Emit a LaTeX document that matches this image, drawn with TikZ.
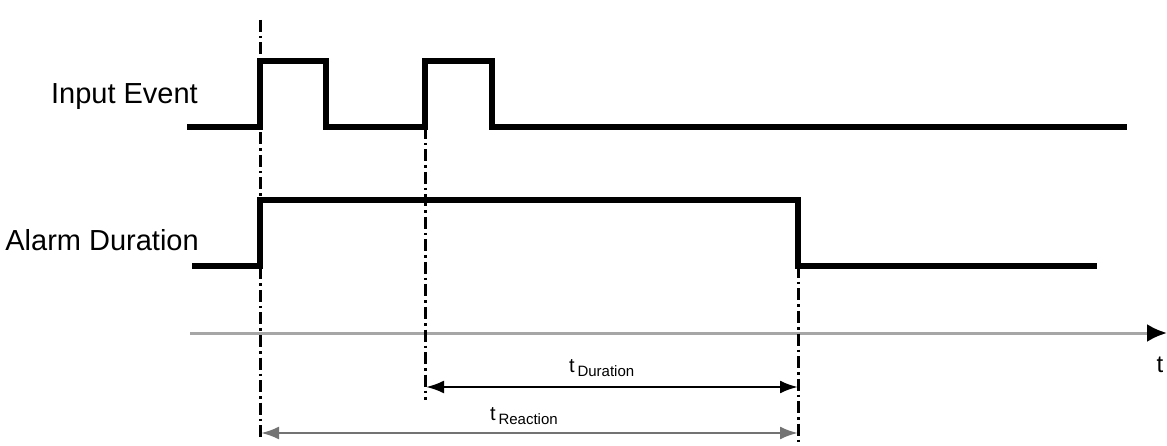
\documentclass[tikz,border=0pt]{standalone}
\usepackage{fontspec}
\setmainfont{Liberation Sans}
\usetikzlibrary{arrows.meta}
\begin{document}
\begin{tikzpicture}[x=1pt,y=-1pt,
  signal/.style={line width=6pt,line join=miter},
  guide/.style={line width=3pt,dash pattern=on 12pt off 4pt on 2.5pt off 4pt},
  measure/.style={line width=2.5pt,{Latex[length=18pt,width=13pt]}-{Latex[length=18pt,width=13pt]}},
  axisline/.style={line width=3pt,draw=black!35,-{Latex[length=20pt,width=18pt,color=black]}},
  biglabel/.style={font=\fontsize{29}{31}\selectfont,inner sep=0pt,anchor=east},
  sublabel/.style={inner sep=0pt}]
\useasboundingbox (0,0) rectangle (1167,446);
% labels
\node[biglabel] (lin) at (198,97) {Input Event};
\node[biglabel] (lal) at (199,240) {Alarm Duration};
% input event signal
\coordinate (i0) at (187,127);
\coordinate (i1) at (260,127);
\coordinate (i2) at (260,61);
\coordinate (i3) at (326,61);
\coordinate (i4) at (326,127);
\coordinate (i5) at (425,127);
\coordinate (i6) at (425,61);
\coordinate (i7) at (492,61);
\coordinate (i8) at (492,127);
\coordinate (i9) at (1127,127);
\draw[signal] (i0) -- (i1) -- (i2) -- (i3) -- (i4) -- (i5) -- (i6) -- (i7) -- (i8) -- (i9);
% alarm signal
\coordinate (a0) at (192,266);
\coordinate (a1) at (260,266);
\coordinate (a2) at (260,200);
\coordinate (a3) at (798,200);
\coordinate (a4) at (798,266);
\coordinate (a5) at (1097,266);
\draw[signal] (a0) -- (a1) -- (a2) -- (a3) -- (a4) -- (a5);
% time axis
\coordinate (t0) at (190,333);
\coordinate (t1) at (1167,333);
\draw[axisline] (t0) -- (t1);
\node[font=\fontsize{24}{26}\selectfont,inner sep=0pt] (tl) at (1160,365) {t};
% guides
\coordinate (g1a) at (260,20);
\coordinate (g1b) at (260,438);
\coordinate (g2a) at (425,127);
\coordinate (g2b) at (425,400);
\coordinate (g3a) at (798,266);
\coordinate (g3b) at (798,442);
\draw[guide] (g1a) -- (g1b);
\draw[guide] (g2a) -- (g2b);
\draw[guide] (g3a) -- (g3b);
% measurements
\coordinate (d0) at (426,387);
\coordinate (d1) at (798,387);
\coordinate (r0) at (261,433);
\coordinate (r1) at (798,433);
\draw[measure] (d0) -- (d1);
\draw[measure,draw=black!55] (r0) -- (r1);
\node[sublabel,anchor=base west] (ld) at (569,372) {{\fontsize{20}{22}\selectfont t}\;\raisebox{-4pt}{\fontsize{15}{17}\selectfont Duration}};
\node[sublabel,anchor=base west] (lr) at (490,420) {{\fontsize{20}{22}\selectfont t}\;\raisebox{-4pt}{\fontsize{15}{17}\selectfont Reaction}};
\end{tikzpicture}
\end{document}
